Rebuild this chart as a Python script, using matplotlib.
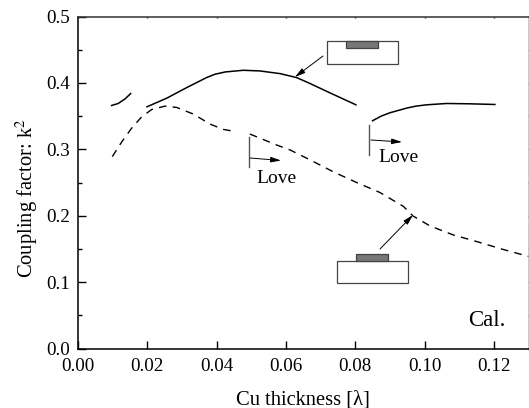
import matplotlib
matplotlib.use("Agg")
import matplotlib.pyplot as plt
from matplotlib.patches import Rectangle

plt.rcParams["font.family"] = ["Liberation Serif", "DejaVu Serif"]
plt.rcParams["mathtext.fontset"] = "stix"
plt.rcParams["font.size"] = 13.7

# solid curves (three branches)
solid1_x = [0.0097, 0.0116, 0.0136, 0.0152]
solid1_y = [0.366, 0.369, 0.376, 0.384]
solid2_x = [0.0199, 0.0256, 0.0314, 0.0371, 0.0395, 0.0425, 0.0477, 0.0525, 0.0583, 0.0631, 0.0670, 0.0727, 0.0802]
solid2_y = [0.364, 0.377, 0.393, 0.408, 0.413, 0.4165, 0.419, 0.418, 0.414, 0.408, 0.399, 0.385, 0.367]
solid3_x = [0.0850, 0.0875, 0.0900, 0.0948, 0.0975, 0.1006, 0.1064, 0.1131, 0.1203]
solid3_y = [0.343, 0.350, 0.355, 0.362, 0.365, 0.367, 0.369, 0.3685, 0.3675]

# dashed curves (gap at the Love mode cut-off)
dash1_x = [0.0099, 0.0126, 0.0155, 0.0184, 0.0213, 0.0251, 0.0285, 0.0333, 0.0381, 0.0419, 0.0451]
dash1_y = [0.289, 0.311, 0.332, 0.349, 0.360, 0.365, 0.363, 0.353, 0.338, 0.330, 0.327]
dash2_x = [0.0496, 0.0573, 0.0612, 0.0670, 0.0737, 0.0804, 0.0871, 0.0939, 0.0967, 0.1016, 0.1083, 0.1151, 0.1228, 0.1305]
dash2_y = [0.323, 0.3065, 0.299, 0.284, 0.266, 0.250, 0.235, 0.214, 0.1995, 0.1845, 0.171, 0.161, 0.149, 0.138]

x_ticks = [0.00, 0.02, 0.04, 0.06, 0.08, 0.10, 0.12]
y_ticks = [0.0, 0.1, 0.2, 0.3, 0.4, 0.5]
y_minor = [0.05, 0.15, 0.25, 0.35, 0.45]

W, H = 529, 408
figure = plt.figure(figsize=(W / 100, H / 100), dpi=100)
axes = figure.add_axes([78 / W, 1 - 348.5 / H, 450.5 / W, 332 / H])
axes.set_xlim(0, 0.13)
axes.set_ylim(0, 0.5)


def fx(px):
    return (px - 78) / 450.5 * 0.13


def fy(py):
    return (348.5 - py) / 332 * 0.5


for xs, ys in [(solid1_x, solid1_y), (solid2_x, solid2_y), (solid3_x, solid3_y)]:
    axes.plot(xs, ys, color="black", lw=1.1)
for xs, ys in [(dash1_x, dash1_y), (dash2_x, dash2_y)]:
    axes.plot(xs, ys, color="black", lw=1.0, dashes=(5.5, 4.5))

axes.set_xticks(x_ticks, ["%.2f" % v for v in x_ticks])
axes.set_yticks(y_ticks, ["%.1f" % v for v in y_ticks])
axes.set_yticks(y_minor, minor=True)
axes.tick_params(which="major", direction="in", length=5.5, width=1, top=True, right=True)
axes.tick_params(which="minor", direction="in", length=3, width=1, right=True)
axes.tick_params(axis="x", which="major", pad=7)
axes.tick_params(axis="y", which="major", pad=5.5)
for tick in axes.xaxis.get_major_ticks() + axes.yaxis.get_major_ticks() + axes.yaxis.get_minor_ticks():
    tick.tick2line.set_markersize(1)
    tick.tick2line.set_color("#555555")
for spine in axes.spines.values():
    spine.set_linewidth(1.1)
axes.spines["top"].set_color("#333333")
axes.spines["right"].set_color("#bbbbbb")

figure.text(303 / W, 1 - 399.5 / H, "Cu thickness [λ]", fontsize=14.8, ha="center", va="center")
figure.text(27 / W, 1 - 198 / H, "Coupling factor: k$^2$", fontsize=14.8, rotation=90, ha="center", va="center")


def arrow(x0, y0, x1, y1):
    axes.annotate("", xy=(fx(x1), fy(y1)), xytext=(fx(x0), fy(y0)),
                  arrowprops=dict(arrowstyle="-|>,head_length=0.45,head_width=0.12",
                                  color="black", lw=0.7, shrinkA=0, shrinkB=0))


def box(x0, y0, x1, y1, face):
    axes.add_patch(Rectangle((fx(x0), fy(y1)), fx(x1) - fx(x0), fy(y0) - fy(y1),
                             facecolor=face, edgecolor="#444444", lw=0.9, zorder=3))


# device sketches
box(327.3, 40.7, 398.3, 64, "white")
box(346, 40.7, 377.5, 48, "#777777")
arrow(323, 56, 295, 77)
box(336.7, 260.7, 408.3, 283.3, "white")
box(356.3, 254.3, 388, 260.7, "#777777")
arrow(380, 249, 413, 215)

# Love mode markers
axes.plot([fx(249), fx(249)], [fy(137), fy(167)], color="#555555", lw=1.0)
arrow(250, 158, 281, 160.5)
axes.text(fx(256), fy(178.5), "Love", va="center", ha="left", fontsize=14)
axes.plot([fx(369), fx(369)], [fy(125), fy(155)], color="#555555", lw=1.0)
arrow(371, 140, 402, 142)
axes.text(fx(378), fy(157.5), "Love", va="center", ha="left", fontsize=14)

axes.text(fx(468), fy(320), "Cal.", va="center", ha="left", fontsize=16.5)

figure.savefig("out.png", dpi=100)
